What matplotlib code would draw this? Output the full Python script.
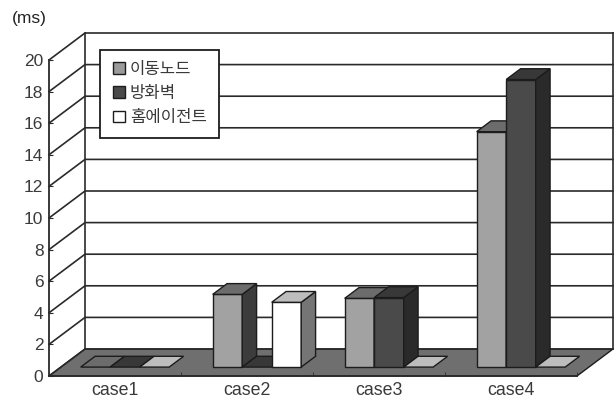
import matplotlib
matplotlib.use("Agg")
import matplotlib.pyplot as plt
from matplotlib.patches import Patch, Polygon

plt.rcParams["font.family"] = ["Liberation Sans", "Noto Sans CJK KR"]

categories = ["case1", "case2", "case3", "case4"]
series_names = ["이동노드", "방화벽", "홈에이전트"]
mobile_node = [0, 4.6, 4.35, 14.9]
firewall = [0, 0, 4.4, 18.2]
home_agent = [0, 4.1, 0, 0]
y_ticks = list(range(0, 21, 2))

# front, top, side shades per series
shades = [
    ("#a2a2a2", "#6c6c6c", "#3c3c3c"),
    ("#4a4a4a", "#383838", "#2a2a2a"),
    ("#ffffff", "#bdbdbd", "#757575"),
]
legend_faces = ["#9a9a9a", "#4a4a4a", "#ffffff"]
ink = "#1c1c1c"
text_gray = "#3a3a3a"

# oblique depth of the chart box, in data units
depth_x = 36 / 132
depth_y = 27 / 15.8
bar_w = 0.2235
gap = 0.15
bar_depth = (0.33, 0.73)


def project(x, y, d):
    return (x + d * depth_x, y + d * depth_y)


def draw_bar(ax, left, value, colors):
    right = left + bar_w
    d0, d1 = bar_depth
    front = [project(left, 0, d0), project(right, 0, d0),
             project(right, value, d0), project(left, value, d0)]
    top = [project(left, value, d0), project(right, value, d0),
           project(right, value, d1), project(left, value, d1)]
    side = [project(right, 0, d0), project(right, 0, d1),
            project(right, value, d1), project(right, value, d0)]
    faces = [(top, colors[1])]
    if value > 0:
        faces = [(front, colors[0]), (side, colors[2]), (top, colors[1])]
    for pts, face in faces:
        ax.add_patch(Polygon(pts, closed=True, facecolor=face, edgecolor=ink,
                             linewidth=1.0, clip_on=False, zorder=3))


fig = plt.figure(figsize=(6.16, 3.98), dpi=100)
ax = fig.add_axes([49 / 616, 22 / 398, 528 / 616, 316 / 398])
ax.set_xlim(0, len(categories))
ax.set_ylim(0, 20)

for name in ["top", "right"]:
    ax.spines[name].set_visible(False)
for name in ["left", "bottom"]:
    ax.spines[name].set_color("#2a2a2a")
    ax.spines[name].set_linewidth(1.3)
    ax.spines[name].set_zorder(4)

# floor
floor = [project(0, 0, 0), project(4, 0, 0), project(4, 0, 1), project(0, 0, 1)]
ax.add_patch(Polygon(floor, closed=True, facecolor="#6f6f6f", edgecolor=ink,
                     linewidth=1.0, clip_on=False, zorder=1))

# back and side wall grid
for v in y_ticks:
    xs, ys = zip(project(0, v, 0), project(0, v, 1), project(4, v, 1))
    ax.plot(xs, ys, color="#2a2a2a", linewidth=1.2, clip_on=False, zorder=2)
xs, ys = zip(project(0, 0, 1), project(0, 20, 1))
ax.plot(xs, ys, color="#2a2a2a", linewidth=1.2, clip_on=False, zorder=2)
xs, ys = zip(project(4, 0, 1), project(4, 20, 1))
ax.plot(xs, ys, color="#2a2a2a", linewidth=1.2, clip_on=False, zorder=2)

all_series = [mobile_node, firewall, home_agent]
for i in range(len(categories)):
    for s, values in enumerate(all_series):
        draw_bar(ax, i + gap + s * bar_w, values[i], shades[s])

ax.set_yticks(y_ticks)
ax.set_xticks([i + 0.5 for i in range(len(categories))])
ax.set_xticklabels(categories)
ax.set_xticks(range(len(categories) + 1), minor=True)
ax.tick_params(axis="x", which="major", length=0, pad=4, labelsize=12.8, labelcolor=text_gray)
ax.tick_params(axis="x", which="minor", direction="in", length=3, color="#2a2a2a")
ax.tick_params(axis="y", direction="in", length=3, pad=4, labelsize=12.5,
               labelcolor=text_gray, color="#2a2a2a")

handles = [Patch(facecolor=c, edgecolor=ink, linewidth=1.0) for c in legend_faces]
leg = ax.legend(handles, series_names, loc="upper left",
                bbox_to_anchor=(100 / 616, 1 - 49.5 / 398),
                bbox_transform=fig.transFigure, fontsize=12, labelcolor=text_gray,
                fancybox=False, framealpha=1, edgecolor=ink, borderaxespad=0,
                handlelength=0.72, handleheight=0.72, handletextpad=0.32,
                labelspacing=0.55, borderpad=0.75)
leg.get_frame().set_linewidth(1.3)
leg.set_zorder(6)

fig.text(12 / 616, 1 - 19 / 398, "(ms)", fontsize=12.5, color="#222222", va="center")

fig.savefig("out.png", dpi=100)
